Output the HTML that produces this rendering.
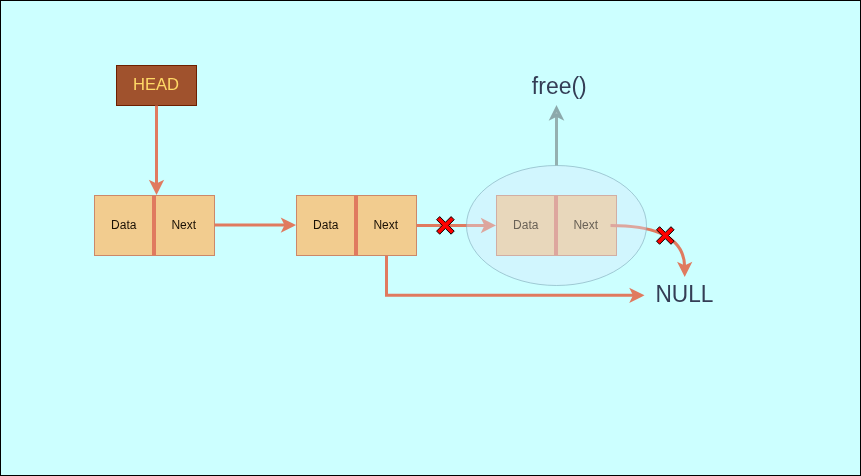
<!DOCTYPE html>
<html>
<head>
<meta charset="utf-8">
<title>Linked list delete last node</title>
<style>
html,body{margin:0;padding:0;background:#ccffff;}
body{width:861px;height:476px;overflow:hidden;position:relative;font-family:"Liberation Sans",Arial,Helvetica,sans-serif;}
svg{position:absolute;left:0;top:0;display:block;will-change:transform;}
text{font-family:"Liberation Sans",Arial,Helvetica,sans-serif;}
</style>
</head>
<body>
<svg width="861" height="476" viewBox="0 0 861 476">
<rect x="0.5" y="0.5" width="860" height="475" fill="#ccffff" stroke="#000000" stroke-width="1"/>
<rect x="116.5" y="65.5" width="80" height="40" fill="#a0522d" stroke="#6d1f00" stroke-width="1"/>
<text x="156.0" y="90" font-size="16.6" fill="#ffd966" text-anchor="middle">HEAD</text>

  <path d="M156.50 105.50 L156.50 185.20" fill="none" stroke="#e07a5f" stroke-width="3" stroke-miterlimit="10"/>
  <path d="M156.50 191.65 L152.20 183.05 L156.50 185.20 L160.80 183.05 Z" fill="#e07a5f" stroke="#e07a5f" stroke-width="3" stroke-miterlimit="10"/>

  <g>
    <rect x="94.5" y="195.5" width="120" height="60" fill="#f2cc8f" stroke="#cc8869"/>
    <path d="M154.0 195.5 L154.0 255.5" stroke="#e07a5f" stroke-width="4" fill="none"/>
    <text x="123.75" y="228.5" font-size="12" fill="#1a1005" text-anchor="middle">Data</text>
    <text x="183.75" y="228.5" font-size="12" fill="#1a1005" text-anchor="middle">Next</text>
  </g>

  <path d="M214.50 225.10 L286.20 225.10" fill="none" stroke="#e07a5f" stroke-width="3" stroke-miterlimit="10"/>
  <path d="M292.65 225.10 L284.05 229.40 L286.20 225.10 L284.05 220.80 Z" fill="#e07a5f" stroke="#e07a5f" stroke-width="3" stroke-miterlimit="10"/>

  <g>
    <rect x="296.5" y="195.5" width="120" height="60" fill="#f2cc8f" stroke="#cc8869"/>
    <path d="M356.0 195.5 L356.0 255.5" stroke="#e07a5f" stroke-width="4" fill="none"/>
    <text x="325.75" y="228.5" font-size="12" fill="#1a1005" text-anchor="middle">Data</text>
    <text x="385.75" y="228.5" font-size="12" fill="#1a1005" text-anchor="middle">Next</text>
  </g>

  <path d="M416.50 225.50 L486.20 225.50" fill="none" stroke="#e07a5f" stroke-width="3" stroke-miterlimit="10"/>
  <path d="M492.65 225.50 L484.05 229.80 L486.20 225.50 L484.05 221.20 Z" fill="#e07a5f" stroke="#e07a5f" stroke-width="3" stroke-miterlimit="10"/>

  <path d="M386.50 255.50 L386.50 295.30 L634.70 295.30" fill="none" stroke="#e07a5f" stroke-width="3" stroke-miterlimit="10"/>
  <path d="M641.15 295.30 L632.55 299.60 L634.70 295.30 L632.55 291.00 Z" fill="#e07a5f" stroke="#e07a5f" stroke-width="3" stroke-miterlimit="10"/>

  <g>
    <rect x="496.5" y="195.5" width="120" height="60" fill="#f2cc8f" stroke="#cc8869"/>
    <path d="M556.0 195.5 L556.0 255.5" stroke="#e07a5f" stroke-width="4" fill="none"/>
  </g>

  <path d="M610.5 225.5 Q 684.3 225.5 684.70 267.20" fill="none" stroke="#e07a5f" stroke-width="3"/>
  <path d="M684.70 273.65 L680.40 265.05 L684.70 267.20 L689.00 265.05 Z" fill="#e07a5f" stroke="#e07a5f" stroke-width="3" stroke-miterlimit="10"/>
<ellipse cx="556.5" cy="225.5" rx="90" ry="60" fill="#dae8fc" fill-opacity="0.4" stroke="#7fa9b8" stroke-opacity="0.6"/>
<text x="525.75" y="228.5" font-size="12" fill="#6a6257" text-anchor="middle">Data</text>
<text x="585.75" y="228.5" font-size="12" fill="#6a6257" text-anchor="middle">Next</text>

  <path d="M556.50 165.50 L556.50 115.20" fill="none" stroke="#94b0b0" stroke-width="3" stroke-miterlimit="10"/>
  <path d="M556.50 108.45 L561.00 117.45 L556.50 115.20 L552.00 117.45 Z" fill="#a8c0c0" stroke="#8ca9ab" stroke-width="3" stroke-miterlimit="10"/>
<text transform="translate(559.3 93.8) scale(0.935 1)" x="0" y="0" font-size="24.6" fill="#343d55" text-anchor="middle">free()</text>
<text transform="translate(684.4 301.8) scale(0.945 1)" x="0" y="0" font-size="24" fill="#343d55" text-anchor="middle">NULL</text>

  <path d="M436.60 219.70 L439.70 216.60 L445.40 222.30 L451.10 216.60 L454.20 219.70 L448.50 225.40 L454.20 231.10 L451.10 234.20 L445.40 228.50 L439.70 234.20 L436.60 231.10 L442.30 225.40 Z" fill="#ff0000" stroke="#000000" stroke-width="1.0" stroke-linejoin="miter"/>

  <path d="M656.50 229.80 L659.60 226.70 L665.30 232.40 L671.00 226.70 L674.10 229.80 L668.40 235.50 L674.10 241.20 L671.00 244.30 L665.30 238.60 L659.60 244.30 L656.50 241.20 L662.20 235.50 Z" fill="#ff0000" stroke="#000000" stroke-width="1.0" stroke-linejoin="miter"/>
</svg>
</body>
</html>
